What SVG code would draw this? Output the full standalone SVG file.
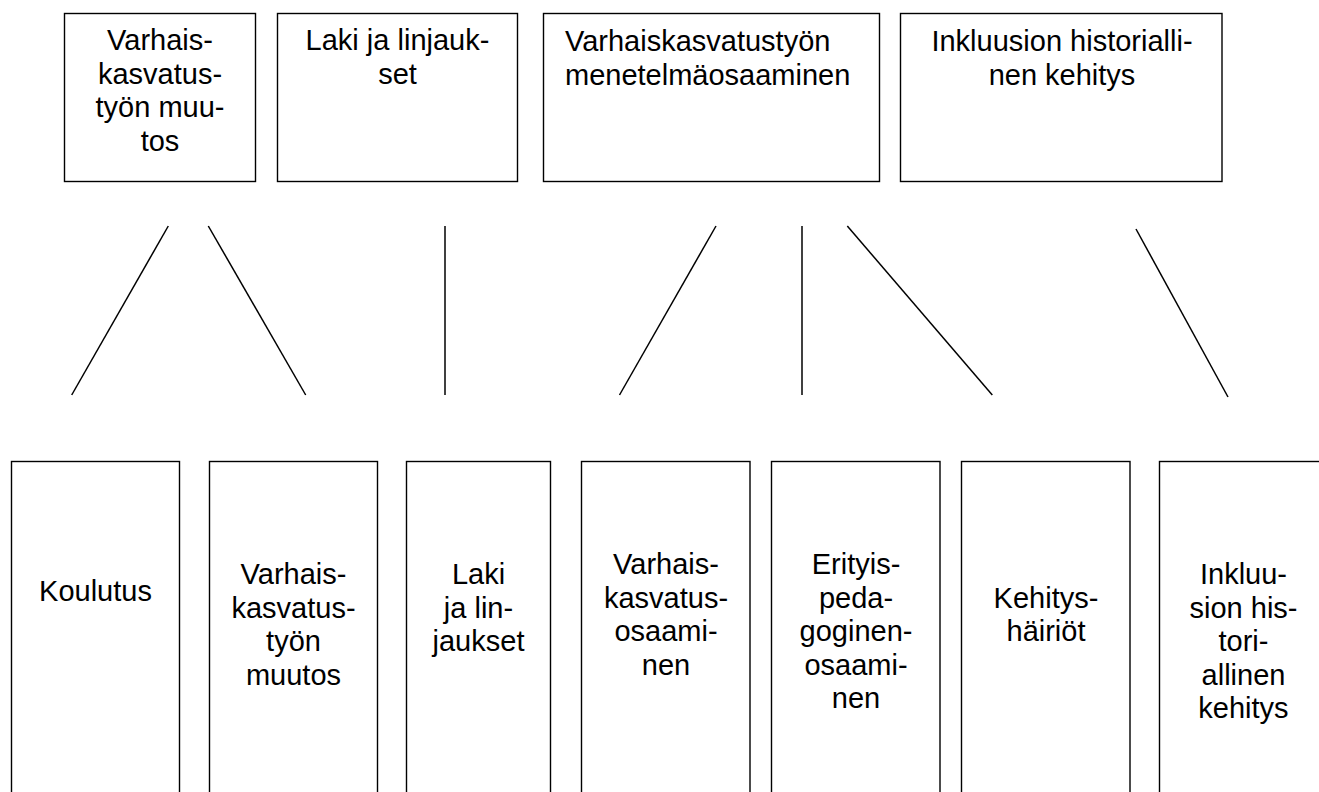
<svg xmlns="http://www.w3.org/2000/svg" width="1319" height="792" viewBox="0 0 1319 792">
<style>
.box{fill:#fff;stroke:#000;stroke-width:1.4}
.t{font-family:"Liberation Sans",Arial,sans-serif;font-size:29px;fill:#000;text-anchor:middle}
.l{text-anchor:start}
.c line{stroke:#000;stroke-width:1.5}
</style>
<rect width="1319" height="792" fill="#fff"/>
<g id="top1"><rect class="box" x="64.5" y="13.5" width="191" height="168"/>
<text class="t"><tspan x="160" y="50">Varhais-</tspan><tspan x="160" y="83.5">kasvatus-</tspan><tspan x="160" y="117">työn muu-</tspan><tspan x="160" y="150.5">tos</tspan></text></g>
<g id="top2"><rect class="box" x="277.5" y="13.5" width="240" height="168"/>
<text class="t"><tspan x="397.5" y="50">Laki ja linjauk-</tspan><tspan x="397.5" y="83.5">set</tspan></text></g>
<g id="top3"><rect class="box" x="543.5" y="13.5" width="336" height="168"/>
<text class="t l"><tspan x="565" y="51">Varhaiskasvatustyön</tspan><tspan x="565" y="84.5">menetelmäosaaminen</tspan></text></g>
<g id="top4"><rect class="box" x="900.5" y="13.5" width="321.5" height="168"/>
<text class="t"><tspan x="1062" y="51">Inkluusion historialli-</tspan><tspan x="1062" y="84.5">nen kehitys</tspan></text></g>
<g id="connectors" class="c">
<line x1="168.3" y1="226" x2="71.7" y2="395"/>
<line x1="208.3" y1="226" x2="305.7" y2="395"/>
<line x1="445" y1="226" x2="445" y2="395"/>
<line x1="716" y1="226" x2="619.5" y2="395"/>
<line x1="802" y1="226" x2="802" y2="395"/>
<line x1="847.3" y1="226" x2="992.3" y2="395"/>
<line x1="1136" y1="229" x2="1228" y2="397"/>
</g>
<g id="b1"><rect class="box" x="11.5" y="461.5" width="168" height="340"/>
<text class="t"><tspan x="95.5" y="600.5">Koulutus</tspan></text></g>
<g id="b2"><rect class="box" x="209.5" y="461.5" width="168" height="340"/>
<text class="t"><tspan x="293.5" y="584">Varhais-</tspan><tspan x="293.5" y="617.5">kasvatus-</tspan><tspan x="293.5" y="651">työn</tspan><tspan x="293.5" y="684.5">muutos</tspan></text></g>
<g id="b3"><rect class="box" x="406.5" y="461.5" width="144" height="340"/>
<text class="t"><tspan x="478.5" y="584">Laki</tspan><tspan x="478.5" y="617.5">ja lin-</tspan><tspan x="478.5" y="651">jaukset</tspan></text></g>
<g id="b4"><rect class="box" x="581.5" y="461.5" width="168.5" height="340"/>
<text class="t"><tspan x="666" y="574">Varhais-</tspan><tspan x="666" y="607.5">kasvatus-</tspan><tspan x="666" y="641">osaami-</tspan><tspan x="666" y="674.5">nen</tspan></text></g>
<g id="b5"><rect class="box" x="771.5" y="461.5" width="168.5" height="340"/>
<text class="t"><tspan x="856" y="574">Erityis-</tspan><tspan x="856" y="607.5">peda-</tspan><tspan x="856" y="641">goginen-</tspan><tspan x="856" y="674.5">osaami-</tspan><tspan x="856" y="708">nen</tspan></text></g>
<g id="b6"><rect class="box" x="961.5" y="461.5" width="168.5" height="340"/>
<text class="t"><tspan x="1046" y="607.5">Kehitys-</tspan><tspan x="1046" y="641">häiriöt</tspan></text></g>
<g id="b7"><rect class="box" x="1159.5" y="461.5" width="169" height="340"/>
<text class="t"><tspan x="1243.5" y="584">Inkluu-</tspan><tspan x="1243.5" y="617.5">sion his-</tspan><tspan x="1243.5" y="651">tori-</tspan><tspan x="1243.5" y="684.5">allinen</tspan><tspan x="1243.5" y="718">kehitys</tspan></text></g>
</svg>
